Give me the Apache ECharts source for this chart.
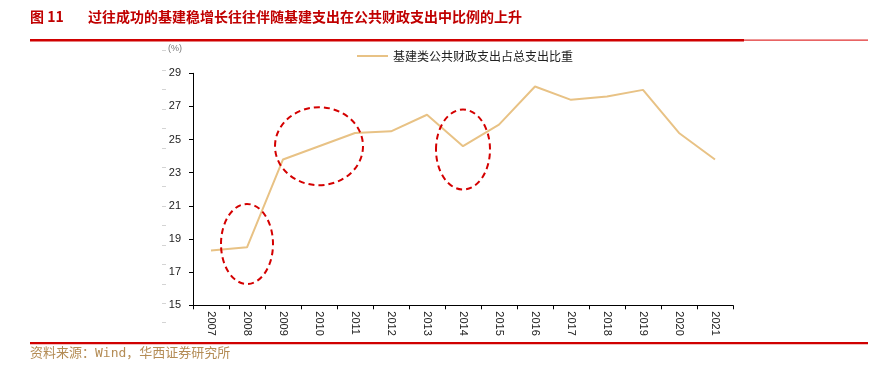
<!DOCTYPE html>
<html>
<head>
<meta charset="utf-8">
<script src="https://cdn.jsdelivr.net/npm/echarts@6/dist/echarts.min.js"></script>
<style>
  html, body { margin: 0; padding: 0; background: #fff; }
  #chart { width: 880px; height: 375px; }
</style>
</head>
<body>
<div id="chart"></div>
<script>
// data
const years = ["2007", "2008", "2009", "2010", "2011", "2012", "2013", "2014",
  "2015", "2016", "2017", "2018", "2019", "2020", "2021"];
const infraShare = [18.3, 18.5, 23.8, 24.6, 25.4, 25.5, 26.5, 24.6,
  25.9, 28.2, 27.4, 27.6, 28.0, 25.4, 23.8];
const seriesName = "基建类公共财政支出占总支出比重";
// circled spots: [year, value]
const highlights = [["2008", 18.7, 26, 40], ["2010", 24.6, 44, 39], ["2014", 24.4, 27, 40]];

const cjk = '"Noto Sans CJK SC", "Liberation Sans", sans-serif';
const chart = echarts.init(document.getElementById("chart"));

const option = {
  animation: false,
  textStyle: { fontFamily: '"Liberation Sans", Arial, "Noto Sans CJK SC", sans-serif' },
  grid: [
    { left: 193, right: 147, top: 73.3, bottom: 69.7 },
    // faint dashes left of the y labels
    { left: 166, width: 1, top: 50.7, bottom: 52.3 }
  ],
  legend: {
    left: 352,
    top: 45,
    icon: "rect",
    itemWidth: 31,
    itemHeight: 2,
    itemGap: 5,
    textStyle: { fontFamily: cjk, fontSize: 12, color: "#222" },
    data: [seriesName]
  },
  xAxis: [
    {
      type: "category",
      data: years,
      boundaryGap: true,
      axisLine: { lineStyle: { color: "#000", width: 1 } },
      axisTick: { show: true, length: 4, lineStyle: { color: "#000" } },
      axisLabel: { rotate: -90, fontSize: 11, color: "#222", margin: 6 }
    },
    { gridIndex: 1, type: "value", show: false }
  ],
  yAxis: [
    {
      type: "value",
      min: 15,
      max: 29,
      interval: 2,
      name: "(%)",
      nameGap: 20,
      nameTextStyle: { fontSize: 9, color: "#777", padding: [0, 36, 0, 0] },
      splitLine: { show: false },
      axisLine: { show: true, lineStyle: { color: "#000", width: 1 } },
      axisTick: { show: true, length: 4, lineStyle: { color: "#000" } },
      axisLabel: { fontSize: 11, color: "#222", margin: 12 }
    },
    {
      gridIndex: 1,
      type: "value",
      min: 0,
      max: 14,
      interval: 1,
      axisLine: { show: false },
      axisTick: { show: true, length: 4, lineStyle: { color: "#d4d4d4" } },
      axisLabel: { show: false },
      splitLine: { show: false }
    }
  ],
  series: [
    {
      name: seriesName,
      type: "line",
      data: infraShare,
      symbol: "none",
      lineStyle: { color: "#e8c285", width: 2 },
      itemStyle: { color: "#e8c285" }
    }
  ],
  graphic: [
    { type: "text", left: 30, top: 10,
      style: { text: "图 11", fontFamily: cjk, fontSize: 14, fontWeight: "bold", fill: "#c00000" } },
    { type: "text", left: 88, top: 10,
      style: { text: "过往成功的基建稳增长往往伴随基建支出在公共财政支出中比例的上升",
        fontFamily: cjk, fontSize: 14, fontWeight: "bold", fill: "#c00000" } },
    { type: "rect", shape: { x: 30, y: 39, width: 714, height: 2.5 }, style: { fill: "#d00000" } },
    { type: "rect", shape: { x: 744, y: 39.5, width: 124, height: 1.2 }, style: { fill: "#e03030" } },
    { type: "rect", shape: { x: 30, y: 342, width: 838, height: 2.2 }, style: { fill: "#d00000" } },
    { type: "text", left: 30, top: 347,
      style: { text: "资料来源：Wind，华西证券研究所",
        fontFamily: '"DejaVu Sans Mono", "Noto Sans CJK SC", monospace', fontSize: 13, fill: "#b48c55" } }
  ]
};

chart.setOption(option);

// dashed red ellipses around the highlighted years
const ellipses = highlights.map(function (h) {
  const p = chart.convertToPixel({ gridIndex: 0 }, [h[0], h[1]]);
  return {
    type: "ellipse",
    shape: { cx: p[0], cy: p[1], rx: h[2], ry: h[3] },
    style: { fill: null, stroke: "#d40000", lineWidth: 2, lineDash: [6, 4] },
    z: 10
  };
});
chart.setOption({ graphic: option.graphic.concat(ellipses) });
</script>
</body>
</html>
